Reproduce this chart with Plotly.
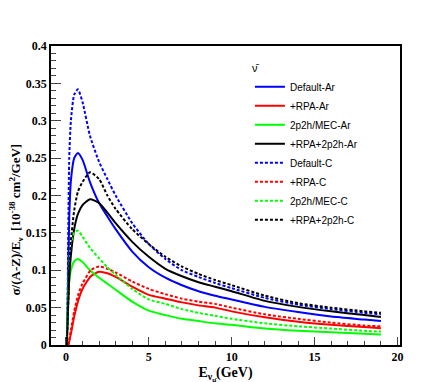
import plotly.graph_objects as go

# energy grid (GeV)
E = [0.05, 0.1, 0.2, 0.3, 0.5, 0.72, 1.0, 1.45, 2.0, 2.5, 3.0, 4.0, 5.0, 6.0,
     7.0, 8.0, 9.0, 10.0, 12.0, 14.0, 16.0, 18.0, 19.0]
E_rpa = [0.15, 0.3, 0.5, 0.75, 1.0, 1.5, 2.0, 2.5, 3.0, 4.0, 5.0, 6.0,
         7.0, 8.0, 9.0, 10.0, 12.0, 14.0, 16.0, 18.0, 19.0]

default_ar = [0.0, 0.05, 0.17, 0.22, 0.25, 0.257, 0.248, 0.218, 0.19, 0.172, 0.155, 0.125, 0.104,
              0.09, 0.08, 0.072, 0.066, 0.061, 0.051, 0.044, 0.038, 0.034, 0.032]
rpa_ar = [0.0, 0.015, 0.038, 0.06, 0.075, 0.092, 0.098, 0.096, 0.091, 0.078, 0.067, 0.062,
          0.057, 0.053, 0.05, 0.045, 0.037, 0.031, 0.027, 0.024, 0.0225]
mec_ar = [0.0, 0.04, 0.085, 0.1, 0.112, 0.115, 0.111, 0.1, 0.09, 0.082, 0.074, 0.058, 0.046,
          0.04, 0.035, 0.032, 0.029, 0.027, 0.022, 0.019, 0.017, 0.015, 0.014]
rpa_mec_ar = [0.0, 0.03, 0.09, 0.12, 0.155, 0.175, 0.187, 0.195, 0.19, 0.177, 0.163, 0.138, 0.118,
              0.102, 0.092, 0.084, 0.078, 0.072, 0.059, 0.051, 0.045, 0.04, 0.0376]
default_c = [0.0, 0.06, 0.25, 0.3, 0.335, 0.342, 0.325, 0.28, 0.245, 0.222, 0.2, 0.163, 0.135,
             0.115, 0.1, 0.091, 0.083, 0.076, 0.063, 0.054, 0.048, 0.043, 0.041]
rpa_c = [0.0, 0.02, 0.045, 0.068, 0.082, 0.1, 0.105, 0.102, 0.097, 0.085, 0.075, 0.068,
         0.062, 0.058, 0.055, 0.05, 0.041, 0.035, 0.03, 0.026, 0.025]
mec_c = [0.0, 0.05, 0.11, 0.135, 0.15, 0.153, 0.145, 0.13, 0.116, 0.104, 0.094, 0.075, 0.061,
         0.055, 0.048, 0.043, 0.039, 0.035, 0.029, 0.025, 0.022, 0.019, 0.018]
rpa_mec_c = [0.0, 0.03, 0.1, 0.14, 0.18, 0.205, 0.218, 0.231, 0.222, 0.2, 0.182, 0.155, 0.135,
             0.118, 0.105, 0.095, 0.087, 0.08, 0.066, 0.056, 0.05, 0.045, 0.043]

series = [
    ("Default-Ar", E, default_ar, "#0000ff", "solid"),
    ("+RPA-Ar", E_rpa, rpa_ar, "#ff0000", "solid"),
    ("2p2h/MEC-Ar", E, mec_ar, "#00ff00", "solid"),
    ("+RPA+2p2h-Ar", E, rpa_mec_ar, "#000000", "solid"),
    ("Default-C", E, default_c, "#0000ff", "3px,2px"),
    ("+RPA-C", E_rpa, rpa_c, "#ff0000", "3px,2px"),
    ("2p2h/MEC-C", E, mec_c, "#00ff00", "3px,2px"),
    ("+RPA+2p2h-C", E, rpa_mec_c, "#000000", "3px,2px"),
]

fig = go.Figure()
for nombre, xs, ys, color, dash in series:
    fig.add_trace(go.Scatter(
        x=xs, y=ys, name=nombre, mode="lines",
        line=dict(color=color, width=2, dash=dash, shape="spline", smoothing=0.6)
    ))

serif = "Liberation Serif, Times New Roman, serif"
sans = "Liberation Sans, Arial, sans-serif"
eje = dict(
    showline=True, linecolor="black", linewidth=1.5, mirror=True,
    showgrid=False, zeroline=False,
    ticks="inside", tickcolor="#444", tickwidth=1,
    tickfont=dict(family=serif, size=12, color="black", weight="bold"),
)

fig.update_layout(
    width=436, height=382,
    margin=dict(l=43, r=44, t=38, b=39),
    plot_bgcolor="white", paper_bgcolor="white",
    showlegend=True,
    legend=dict(
        x=0.57, y=0.96, xanchor="left", yanchor="top",
        bgcolor="rgba(0,0,0,0)", borderwidth=0,
        font=dict(family=sans, size=10, color="black"),
        title=dict(text="ν̄", font=dict(family=sans, size=11)),
        tracegroupgap=0,
    ),
    xaxis=dict(eje, range=[-0.9, 20.15], dtick=5, tick0=0, ticklen=8,
               minor=dict(dtick=1, ticklen=4, ticks="inside", tickcolor="#444"),
               title=dict(text="E<sub>ν<sub>μ̄</sub></sub>(GeV)",
                          font=dict(family=serif, size=14, color="black", weight="bold"),
                          standoff=4)),
    yaxis=dict(eje, range=[0, 0.4], dtick=0.05, tick0=0, ticklen=10,
               minor=dict(dtick=0.01, ticklen=5, ticks="inside", tickcolor="#444")),
    annotations=[dict(
        text="σ/(A-Z)/E<sub>ν</sub>  [10<sup>-38</sup> cm<sup>2</sup>/GeV]",
        xref="paper", yref="paper", x=-0.1, y=0.42, xanchor="center", yanchor="middle",
        textangle=-90, showarrow=False,
        font=dict(family=serif, size=13, color="black", weight="bold"),
    )],
)

fig.write_html("out.html")
